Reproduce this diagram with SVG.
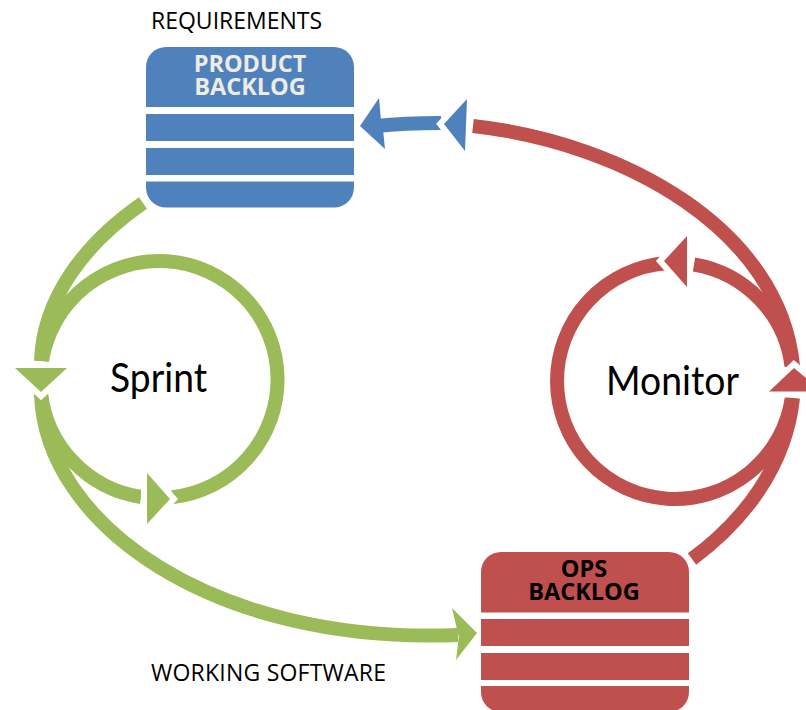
<svg xmlns="http://www.w3.org/2000/svg" width="806" height="710" viewBox="0 0 806 710">
<style>
.g{fill:none;stroke:#9bbb59;stroke-width:14}
.r{fill:none;stroke:#c0504d;stroke-width:14}
.b{fill:none;stroke:#4f81bd;stroke-width:14}
.hg{fill:#9bbb59;stroke:#fff;stroke-width:12;paint-order:stroke}
.hr{fill:#c0504d;stroke:#fff;stroke-width:12;paint-order:stroke}
.hb{fill:#4f81bd;stroke:#fff;stroke-width:12;paint-order:stroke}
.blue{fill:#4f81bd}
.red{fill:#c0504d}
text{font-family:"Open Sans","Noto Sans","Liberation Sans",sans-serif}
.big{font-family:Lato,"Open Sans",sans-serif;font-size:40px;fill:#000}
.lab{font-size:23px;fill:#000}
.hd{font-size:23.500px;font-weight:700;text-anchor:middle}
</style>
<g id="connectors">
<path class="g" d="M143 203C85 243 43 298 41 361"/>
<path class="g" d="M42 361A118.500 118.500 0 1 1 172 497.300"/>
<path class="g" d="M41 393A118.500 118.500 0 0 0 141 497"/>
<path class="g" d="M41 393C44 525 215 645 458 635"/>
<polygon class="hg" points="15,368 67,368 41,392"/>
<polygon class="hg" points="147,473 170,499 147,524"/>
<polygon fill="#9bbb59" points="452,608 477,633 456,660 460,628 460,642"/>
<path class="r" d="M473 126C625 143 780 230 793 366"/>
<path class="r" d="M791.500 366A118 118 0 0 0 694 264.500"/>
<path class="r" d="M666 263.300A118 118 0 1 0 791.800 398"/>
<path class="r" d="M692 559C745 520 786 465 793 398"/>
<polygon class="hr" points="687,236 664,261 687,287"/>
<polygon class="hr" points="794,368 769,391.500 806,391.500 806,378"/>
<path class="b" d="M376 126C395 124 415 123 441 123"/>
<polygon class="hb" points="467,99 444,124 465,151"/>
<polygon fill="#4f81bd" points="379,98 360,126 385,149 382,120 382,132"/>
</g>
<g id="product-backlog">
<path class="blue" d="M146 107V67A20 20 0 0 1 166 47H334A20 20 0 0 1 354 67V107Z"/>
<rect class="blue" x="146" y="114" width="208" height="27"/>
<rect class="blue" x="146" y="148" width="208" height="27"/>
<path class="blue" d="M146 181.500H354V187.500A20 20 0 0 1 334 207.500H166A20 20 0 0 1 146 187.500Z"/>
<text class="hd" fill="#eeece1"><tspan x="250" y="72">PRODUCT</tspan><tspan x="250" y="95">BACKLOG</tspan></text>
</g>
<g id="ops-backlog">
<path class="red" d="M481 612.500V572A20 20 0 0 1 501 552H669A20 20 0 0 1 689 572V612.500Z"/>
<rect class="red" x="481" y="619" width="208" height="27"/>
<rect class="red" x="481" y="653" width="208" height="27"/>
<path class="red" d="M481 686H689V692A20 20 0 0 1 669 712H501A20 20 0 0 1 481 692Z"/>
<text class="hd" fill="#000"><tspan x="584" y="577">OPS</tspan><tspan x="584" y="600">BACKLOG</tspan></text>
</g>
<g id="sprint"><text class="big" x="110" y="392" textLength="97" lengthAdjust="spacingAndGlyphs">Sprint</text></g>
<g id="monitor"><text class="big" x="606" y="395" textLength="133" lengthAdjust="spacingAndGlyphs">Monitor</text></g>
<g id="requirements"><text class="lab" x="151" y="29">REQUIREMENTS</text></g>
<g id="working-software"><text class="lab" x="151" y="681" textLength="235">WORKING SOFTWARE</text></g>
</svg>
